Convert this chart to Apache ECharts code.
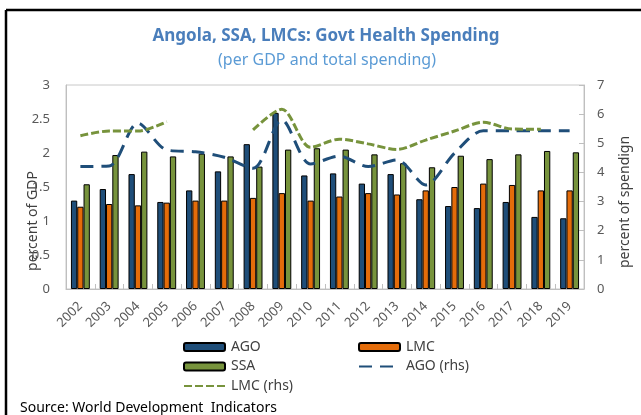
<!DOCTYPE html>
<html>
<head>
<meta charset="utf-8">
<script src="https://cdn.jsdelivr.net/npm/echarts@6/dist/echarts.min.js"></script>
<style>
  html, body { margin: 0; padding: 0; background: #fff; }
  #chart { width: 641px; height: 415px; }
</style>
</head>
<body>
<div id="chart"></div>
<script>
var years = ["2002", "2003", "2004", "2005", "2006", "2007", "2008", "2009", "2010",
  "2011", "2012", "2013", "2014", "2015", "2016", "2017", "2018", "2019"];
// percent of GDP (lhs)
var agoGdp = [1.30, 1.47, 1.69, 1.28, 1.45, 1.73, 2.13, 2.59, 1.67, 1.70, 1.55, 1.69, 1.32, 1.22, 1.19, 1.28, 1.06, 1.04];
var lmcGdp = [1.21, 1.25, 1.23, 1.27, 1.30, 1.30, 1.34, 1.41, 1.30, 1.36, 1.41, 1.39, 1.45, 1.50, 1.55, 1.53, 1.45, 1.45];
var ssaGdp = [1.54, 1.97, 2.02, 1.95, 1.99, 1.95, 1.80, 2.05, 2.07, 2.05, 1.98, 1.85, 1.79, 1.96, 1.91, 1.98, 2.03, 2.01];
// percent of total spending (rhs)
var agoRhs = [4.20, 4.22, 5.69, 4.77, 4.71, 4.52, 4.14, 5.80, 4.29, 4.56, 4.20, 4.43, 3.57, 4.66, 5.43, 5.43, 5.43, 5.43];
var lmcRhs = [5.26, 5.42, 5.42, 5.74, null, null, 5.46, 6.17, 4.86, 5.14, 4.98, 4.79, 5.11, 5.42, 5.72, 5.49, 5.48, null];
var leftTicks = [0, 0.5, 1, 1.5, 2, 2.5, 3];
var rightTicks = [0, 1, 2, 3, 4, 5, 6, 7];

var font = "Noto Sans";
var gray = "#595959";
var cBlue = "#1f4e79";
var cOrange = "#e46c0a";
var cGreen = "#77933c";

var myChart = echarts.init(document.getElementById("chart"), null, { renderer: "canvas" });

function legendAt(name, x, y, isLine) {
  var lg = {
    data: [name],
    left: x,
    top: y,
    padding: 0,
    itemWidth: 41,
    itemHeight: 8,
    itemGap: 6,
    textStyle: { fontFamily: font, fontSize: 14, color: "#404040", padding: [0, 0, 0, 1] },
    selectedMode: false
  };
  if (isLine) {
    // hide the default circle symbol, keep the dashed line
    lg.itemStyle = { opacity: 0 };
  }
  return lg;
}

function barSeries(name, data, color) {
  return {
    name: name,
    type: "bar",
    yAxisIndex: 0,
    data: data,
    barWidth: 6.3,
    barGap: "0%",
    itemStyle: { color: color, borderColor: "#000", borderWidth: 1 }
  };
}

var option = {
  animation: false,
  legend: [
    legendAt("AGO", 183, 340),
    legendAt("LMC", 358, 340),
    legendAt("SSA", 183, 359.5),
    legendAt("AGO (rhs)", 358, 359.5, true),
    legendAt("LMC (rhs)", 183, 379, true)
  ],
  grid: { left: 66, right: 57, top: 85, bottom: 126 },
  xAxis: {
    type: "category",
    data: years,
    axisLine: { lineStyle: { color: "#bfbfbf" } },
    axisTick: { show: true, inside: true, length: 5, lineStyle: { color: "#bfbfbf" } },
    axisLabel: { rotate: 45, fontFamily: font, fontSize: 13, color: gray, margin: 15 }
  },
  yAxis: [
    {
      type: "value",
      min: leftTicks[0],
      max: leftTicks[leftTicks.length - 1],
      interval: 0.5,
      splitLine: { show: false },
      axisLine: { show: true, lineStyle: { color: "#bfbfbf" } },
      axisTick: { show: false },
      axisLabel: { fontFamily: font, fontSize: 13, color: gray, margin: 16 }
    },
    {
      type: "value",
      min: rightTicks[0],
      max: rightTicks[rightTicks.length - 1],
      interval: 1,
      position: "right",
      splitLine: { show: false },
      axisLine: { show: true, lineStyle: { color: "#bfbfbf" } },
      axisTick: { show: true, inside: true, length: 5, lineStyle: { color: "#bfbfbf" } },
      axisLabel: { fontFamily: font, fontSize: 13, color: gray, margin: 13 }
    }
  ],
  graphic: [
    { type: "rect", shape: { x: 66, y: 85, width: 518, height: 204 }, style: { fill: null, stroke: "#c8c8c8", lineWidth: 1 }, silent: true },
    { type: "line", shape: { x1: 6, y1: 10, x2: 641, y2: 10 }, style: { stroke: "#000", lineWidth: 2.5 } },
    { type: "line", shape: { x1: 6, y1: 10, x2: 6, y2: 415 }, style: { stroke: "#000", lineWidth: 2.5 } },
    {
      type: "text", x: 326, y: 36,
      style: { text: "Angola, SSA, LMCs: Govt Health Spending", fontFamily: font, fontSize: 17, fontWeight: "bold", fill: "#4a7ebb", align: "center", verticalAlign: "middle" }
    },
    {
      type: "text", x: 327, y: 60,
      style: { text: "(per GDP and total spending)", fontFamily: font, fontSize: 16, fill: "#5b9bd5", align: "center", verticalAlign: "middle" }
    },
    {
      type: "text", x: 33, y: 221, rotation: Math.PI / 2,
      style: { text: "percent of GDP", fontFamily: font, fontSize: 14, fill: "#404040", align: "center", verticalAlign: "middle" }
    },
    {
      type: "text", x: 625, y: 202, rotation: Math.PI / 2,
      style: { text: "percent of spendign", fontFamily: font, fontSize: 14, fill: "#404040", align: "center", verticalAlign: "middle" }
    },
    {
      type: "text", x: 20, y: 408,
      style: { text: "Source: World Development  Indicators", fontFamily: font, fontSize: 14, fill: "#000", verticalAlign: "middle" }
    }
  ],
  series: [
    barSeries("AGO", agoGdp, cBlue),
    barSeries("LMC", lmcGdp, cOrange),
    barSeries("SSA", ssaGdp, cGreen),
    {
      name: "AGO (rhs)",
      type: "line",
      yAxisIndex: 1,
      data: agoRhs,
      smooth: 0.3,
      symbol: "none",
      itemStyle: { color: cBlue },
      lineStyle: { color: cBlue, width: 3, type: [13, 8] }
    },
    {
      name: "LMC (rhs)",
      type: "line",
      yAxisIndex: 1,
      data: lmcRhs,
      smooth: 0.3,
      connectNulls: false,
      symbol: "none",
      itemStyle: { color: cGreen },
      lineStyle: { color: cGreen, width: 3, type: [8, 3] }
    }
  ]
};

option && myChart.setOption(option);
</script>
</body>
</html>
